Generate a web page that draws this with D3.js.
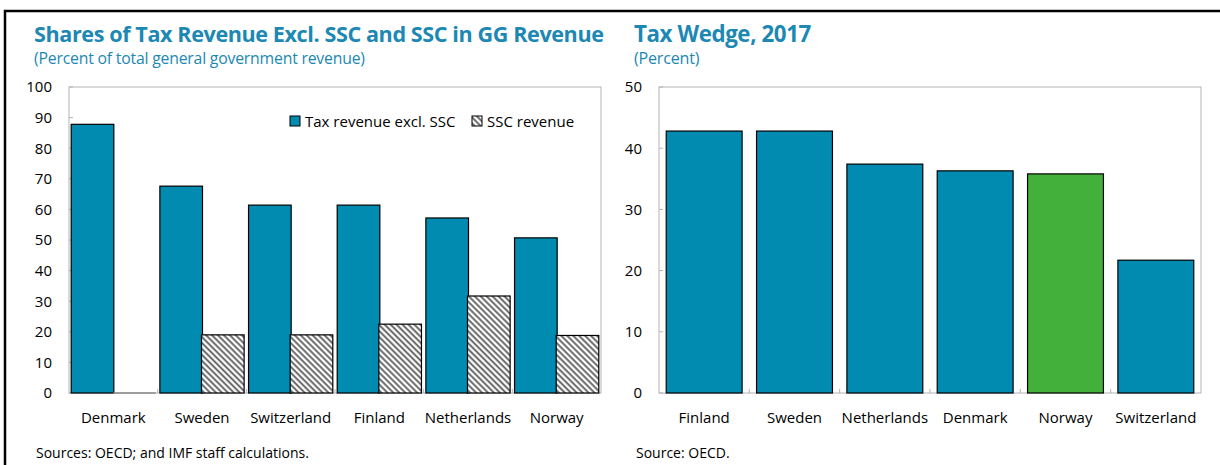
<!DOCTYPE html>
<html>
<head>
<meta charset="utf-8">
<script src="https://cdn.jsdelivr.net/npm/d3@7"></script>
<style>
  html, body { margin: 0; padding: 0; background: #fff; }
  svg { display: block; font-family: "Open Sans", "Noto Sans", sans-serif; }
</style>
</head>
<body>
<svg id="chart" width="1220" height="465"></svg>
<script>
// Left panel: shares of GG revenue
const revCountries = ["Denmark", "Sweden", "Switzerland", "Finland", "Netherlands", "Norway"];
const taxExclSSC = [87.8, 67.6, 61.4, 61.4, 57.2, 50.7];
const sscRevenue = [0, 19.0, 19.0, 22.5, 31.7, 18.8];
const revTicks = [0, 10, 20, 30, 40, 50, 60, 70, 80, 90, 100];
const revSeries = ["Tax revenue excl. SSC", "SSC revenue"];

// Right panel: tax wedge 2017
const wedgeCountries = ["Finland", "Sweden", "Netherlands", "Denmark", "Norway", "Switzerland"];
const taxWedge = [42.8, 42.8, 37.4, 36.3, 35.8, 21.7];
const wedgeTicks = [0, 10, 20, 30, 40, 50];

const BLUE = "#018bb1";
const GREEN = "#43b03b";
const TITLE = "#1c88b3";
const FRAME = "#b4b4b4";

const svg = d3.select("#chart");

// hatch pattern for SSC bars (lines running down to the right)
const defs = svg.append("defs");
const pat = defs.append("pattern")
  .attr("id", "hatch")
  .attr("patternUnits", "userSpaceOnUse")
  .attr("width", 4.2).attr("height", 4.2)
  .attr("patternTransform", "rotate(45)");
pat.append("rect").attr("width", 4.2).attr("height", 4.2).attr("fill", "#fff");
pat.append("line").attr("x1", 0).attr("y1", 1.2).attr("x2", 4.2).attr("y2", 1.2)
  .attr("stroke", "#5a5a5a").attr("stroke-width", 1.8);

// outer border lines
svg.append("line").attr("x1", 4).attr("x2", 1220).attr("y1", 11).attr("y2", 11)
  .attr("stroke", "#000").attr("stroke-width", 2.5);
svg.append("line").attr("x1", 5).attr("x2", 5).attr("y1", 10).attr("y2", 465)
  .attr("stroke", "#000").attr("stroke-width", 2.5);

function fitText(sel, width) {
  const w = sel.node().getComputedTextLength();
  const fs = parseFloat(sel.attr("font-size"));
  sel.attr("font-size", fs * width / w);
}

function header(x, title, titleW, subtitle, subW) {
  const t = svg.append("text").attr("x", x).attr("y", 42)
    .attr("font-size", 19).attr("font-weight", "bold").attr("fill", TITLE)
    .attr("letter-spacing", -0.4).text(title);
  fitText(t, titleW);
  const s = svg.append("text").attr("x", x).attr("y", 64)
    .attr("font-size", 14).attr("fill", TITLE).attr("letter-spacing", -0.2).text(subtitle);
  fitText(s, subW);
}

function frameAndAxes(g, x, y, ticks, nBands) {
  // y axis labels and inward ticks
  const yAxis = d3.axisLeft(y).tickValues(ticks).tickSize(0).tickPadding(17);
  g.append("g").attr("transform", `translate(${x.range()[0]},0)`).call(yAxis)
    .call(a => a.select(".domain").remove())
    .call(a => a.selectAll("text").attr("font-size", 15).attr("fill", "#000")
      .attr("font-family", "'Open Sans', sans-serif"));
  const x0 = x.range()[0], x1 = x.range()[1];
  g.append("g").selectAll("line").data(ticks).join("line")
    .attr("x1", x0).attr("x2", x0 + 4)
    .attr("y1", d => y(d)).attr("y2", d => y(d))
    .attr("stroke", FRAME);
  // x axis band-boundary ticks pointing up
  const bw = (x1 - x0) / nBands;
  g.append("g").selectAll("line").data(d3.range(1, nBands)).join("line")
    .attr("x1", d => x0 + d * bw).attr("x2", d => x0 + d * bw)
    .attr("y1", y.range()[0]).attr("y2", y.range()[0] - 4)
    .attr("stroke", FRAME);
}

function xLabels(g, x, cats, yPos) {
  g.append("g").selectAll("text").data(cats).join("text")
    .attr("x", d => x(d) + x.bandwidth() / 2).attr("y", yPos)
    .attr("text-anchor", "middle").attr("font-size", 15).attr("fill", "#000")
    .text(d => d);
}

// ---------- Left panel ----------
{
  const L = 69, R = 601, T = 87, B = 393;
  const g = svg.append("g");
  header(34, "Shares of Tax Revenue Excl. SSC and SSC in GG Revenue", 567,
    "(Percent of total general government revenue)", 330);

  const x = d3.scaleBand().domain(revCountries).range([L, R]).paddingInner(0).paddingOuter(0);
  const xs = d3.scaleBand().domain(revSeries).range([0, x.bandwidth()]).paddingInner(0).paddingOuter(0.04);
  const y = d3.scaleLinear().domain([0, 100]).range([B, T]);

  g.append("rect").attr("x", L).attr("y", T).attr("width", R - L).attr("height", B - T)
    .attr("fill", "none").attr("stroke", FRAME);
  frameAndAxes(g, x, y, revTicks, revCountries.length);

  const rows = revCountries.map((c, i) => ({ c, v: [taxExclSSC[i], sscRevenue[i]] }));
  const grp = g.append("g").selectAll("g").data(rows).join("g")
    .attr("transform", d => `translate(${x(d.c)},0)`);
  const cells = grp.selectAll("g").data(d => d.v.map((v, j) => ({ v, s: revSeries[j], j }))).join("g");
  cells.filter(d => d.v > 0).append("rect")
    .attr("x", d => xs(d.s) + (d.j === 0 ? 0.5 : -0.5))
    .attr("width", xs.bandwidth())
    .attr("y", d => y(d.v))
    .attr("height", d => y(0) - y(d.v))
    .attr("fill", d => d.j === 0 ? BLUE : "url(#hatch)")
    .attr("stroke", "#000")
    .attr("stroke-width", 1.2);
  // zero-height bars show as a flat outline on the baseline
  cells.filter(d => d.v === 0).append("line")
    .attr("x1", d => xs(d.s)).attr("x2", d => xs(d.s) + xs.bandwidth())
    .attr("y1", d => y(d.v)).attr("y2", d => y(d.v))
    .attr("stroke", "#8a8a8a").attr("stroke-width", 1.6);

  xLabels(g, x, revCountries, 423);

  // legend
  const leg = g.append("g");
  const items = [{ s: revSeries[0], x: 290, fill: BLUE }, { s: revSeries[1], x: 472, fill: "url(#hatch)" }];
  items.forEach(it => {
    leg.append("rect").attr("x", it.x).attr("y", 116).attr("width", 10).attr("height", 10)
      .attr("fill", it.fill).attr("stroke", "#000").attr("stroke-width", 1);
    leg.append("text").attr("x", it.x + 15).attr("y", 127).attr("font-size", 15)
      .attr("fill", "#000").text(it.s);
  });

  svg.append("text").attr("x", 36).attr("y", 458).attr("font-size", 14).attr("fill", "#000")
    .text("Sources: OECD; and IMF staff calculations.");
}

// ---------- Right panel ----------
{
  const L = 659, R = 1201, T = 87, B = 393;
  const g = svg.append("g");
  header(634, "Tax Wedge, 2017", 176, "(Percent)", 65);

  const x = d3.scaleBand().domain(wedgeCountries).range([L, R]).paddingInner(0.16).paddingOuter(0.08);
  const xb = d3.scaleBand().domain(wedgeCountries).range([L, R]);
  const y = d3.scaleLinear().domain([0, 50]).range([B, T]);

  g.append("rect").attr("x", L).attr("y", T).attr("width", R - L).attr("height", B - T)
    .attr("fill", "none").attr("stroke", FRAME);
  frameAndAxes(g, xb, y, wedgeTicks, wedgeCountries.length);

  g.append("g").selectAll("rect").data(wedgeCountries.map((c, i) => ({ c, v: taxWedge[i] }))).join("rect")
    .attr("x", d => x(d.c)).attr("width", x.bandwidth())
    .attr("y", d => y(d.v)).attr("height", d => y(0) - y(d.v))
    .attr("fill", d => d.c === "Norway" ? GREEN : BLUE)
    .attr("stroke", "#000").attr("stroke-width", 1.2);

  xLabels(g, xb, wedgeCountries, 423);

  svg.append("text").attr("x", 636).attr("y", 458).attr("font-size", 14).attr("fill", "#000")
    .text("Source: OECD.");
}
</script>
</body>
</html>
